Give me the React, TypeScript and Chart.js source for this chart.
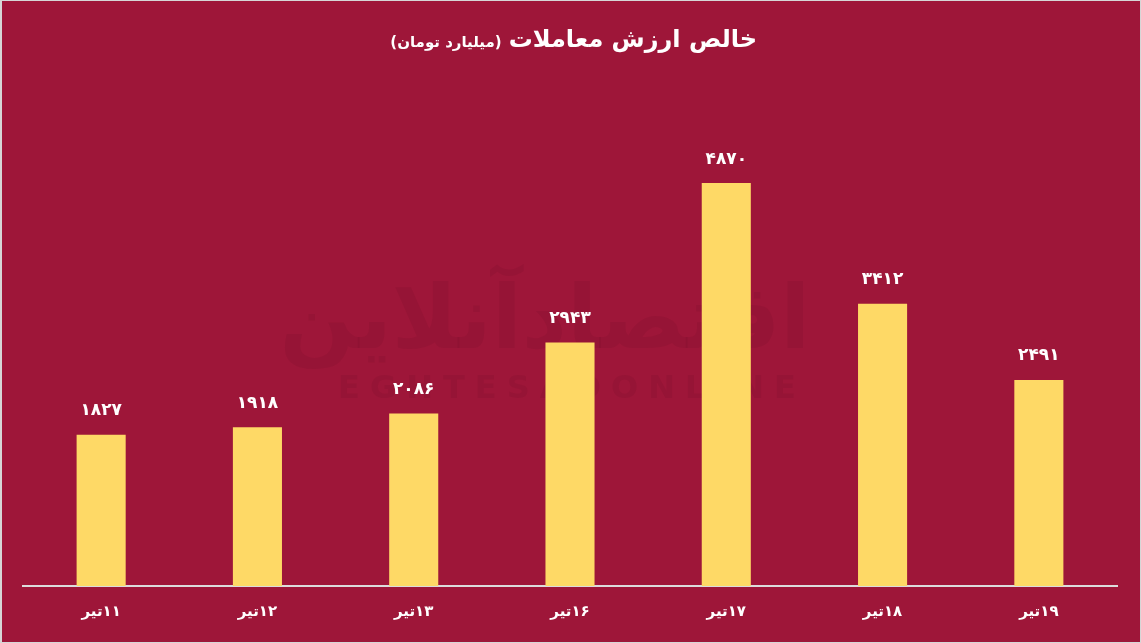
import React, { useEffect, useRef } from "react";
import { Chart, registerables } from "chart.js";

Chart.register(...registerables);

const days = [11, 12, 13, 16, 17, 18, 19];
const monthName = "تیر";
const values = [1827, 1918, 2086, 2943, 4870, 3412, 2491];
const titleMain = "خالص ارزش معاملات";
const titleSub = "(میلیارد تومان)";
const watermarkFa = "اقتصادآنلاین";
const watermarkEn = "EGHTESADONLINE";

const BG = "#9E1639";
const BAR = "#FED966";
const FONT = "'DejaVu Sans', sans-serif";

const toFa = (s: string | number) =>
  String(s).replace(/\d/g, (d) => "۰۱۲۳۴۵۶۷۸۹"[Number(d)]);

const labels = days.map((d) => "\u200F" + toFa(d) + monthName);

export default function App() {
  const ref = useRef<HTMLCanvasElement | null>(null);

  useEffect(() => {
    const canvas = ref.current;
    if (!canvas) return;

    const bgPlugin = {
      id: "bg",
      beforeDraw(chart: any) {
        const { ctx, width, height } = chart;
        ctx.save();
        ctx.fillStyle = "#d6d6d6";
        ctx.fillRect(0, 0, width, height);
        ctx.fillStyle = BG;
        ctx.fillRect(2, 1, width - 3, height - 2);
        ctx.restore();
      },
      beforeDatasetsDraw(chart: any) {
        const { ctx } = chart;
        ctx.save();
        ctx.fillStyle = "rgba(60,0,20,0.08)";
        ctx.textAlign = "center";
        ctx.textBaseline = "middle";
        ctx.direction = "rtl";
        ctx.font = `bold 88px ${FONT}`;
        ctx.fillText(watermarkFa, 545, 325);
        ctx.direction = "ltr";
        ctx.font = `bold 32px ${FONT}`;
        (ctx as any).letterSpacing = "10px";
        ctx.fillText(watermarkEn, 572, 390);
        ctx.restore();
      },
      afterDatasetsDraw(chart: any) {
        const { ctx } = chart;
        const meta = chart.getDatasetMeta(0);
        ctx.save();
        ctx.fillStyle = "#ffffff";
        ctx.textAlign = "center";
        ctx.textBaseline = "middle";
        ctx.font = `bold 17px ${FONT}`;
        meta.data.forEach((bar: any, i: number) => {
          ctx.fillText(toFa(values[i]), bar.x, bar.y - 24);
        });
        ctx.restore();
      },
      afterDraw(chart: any) {
        const { ctx } = chart;
        ctx.save();
        ctx.fillStyle = "#ffffff";
        ctx.textBaseline = "middle";
        ctx.direction = "rtl";
        ctx.textAlign = "right";
        const right = 757;
        ctx.font = `bold 24px ${FONT}`;
        const w = ctx.measureText(titleMain).width;
        ctx.fillText(titleMain, right, 41);
        ctx.font = `bold 15px ${FONT}`;
        ctx.fillText(titleSub, right - w - 7, 43);
        ctx.restore();
      },
    };

    const chart = new Chart(canvas, {
      type: "bar",
      data: {
        labels,
        datasets: [
          {
            data: values,
            backgroundColor: BAR,
            borderWidth: 0,
            categoryPercentage: 1,
            barPercentage: 0.314,
          },
        ],
      },
      options: {
        responsive: false,
        animation: false,
        layout: { padding: { left: 23, right: 24, top: 131, bottom: 5 } },
        plugins: {
          legend: { display: false },
          title: { display: false },
          tooltip: { enabled: false },
        },
        scales: {
          x: {
            grid: { display: false, drawTicks: false },
            border: { display: true, color: "#dcdcdc", width: 2 },
            ticks: {
              color: "#ffffff",
              font: { family: FONT, size: 15, weight: "bold" },
              padding: 17,
            },
          },
          y: {
            display: false,
            min: 0,
            max: 5500,
          },
        },
      },
      plugins: [bgPlugin],
    });

    return () => chart.destroy();
  }, []);

  return (
    <div style={{ position: "fixed", left: 0, top: 0, width: 1141, height: 643 }}>
      <canvas ref={ref} width={1141} height={643} dir="rtl" />
    </div>
  );
}
